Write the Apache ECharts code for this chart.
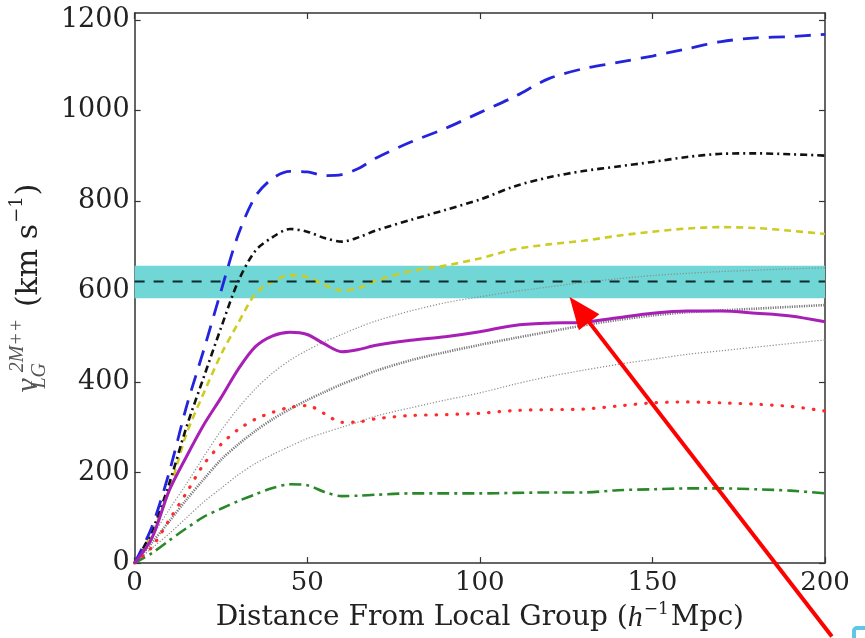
<!DOCTYPE html>
<html>
<head>
<meta charset="utf-8">
<script src="https://cdn.jsdelivr.net/npm/echarts@6/dist/echarts.min.js"></script>
<style>
html,body{margin:0;padding:0;background:#fff;}
#main{width:865px;height:638px;}
</style>
</head>
<body>
<div id="main"></div>
<script>
// ---- data (km/s vs distance in h^-1 Mpc) ----
const distance = [0,5,10,15,20,25,30,35,40,45,50,55,60,65,70,80,90,100,110,120,130,140,150,160,170,180,190,200];
const blueLongDash  = [0,80,200,345,470,600,725,810,850,865,864,856,858,872,895,930,960,995,1030,1070,1092,1106,1120,1136,1152,1160,1163,1168];
const blackDashDot  = [0,70,175,300,410,519,622,690,720,738,732,718,710,720,735,758,780,803,832,852,866,876,886,897,904,905,903,900];
const yellowDash    = [0,65,160,285,375,460,530,595,622,636,632,614,602,608,624,645,657,673,693,704,712,723,732,739,742,740,734,727];
const magentaSolid  = [0,55,160,235,305,365,428,478,502,510,505,484,467,472,481,492,500,511,525,530,532,542,552,557,557,552,546,533];
const redDotted     = [0,35,95,155,218,262,295,318,333,344,348,330,311,312,319,326,328,331,337,339,340,347,354,356,354,351,346,336];
const greenDashDot  = [0,22,50,77,102,120,137,152,166,174,172,157,148,149,151,154,154,154,155,156,156,161,163,165,165,163,160,154];
const grayUpper     = [0,58,118,175,235,292,342,385,420,448,470,489,505,521,535,557,575,588,600,610,620,628,635,640,644,647,650,652];
const grayMiddle    = [0,45,92,140,185,228,262,292,318,340,360,378,395,410,425,448,466,482,497,511,525,537,547,554,558,562,566,570];
const grayLower     = [0,33,65,100,135,165,195,220,240,258,275,288,300,312,325,343,360,376,395,412,426,439,450,461,469,477,485,493];
const observedLG = 622;            // horizontal dashed line
const observedBand = [585, 657];   // cyan band
const xTicks = [0,50,100,150,200];
const yTicks = [0,200,400,600,800,1000,1200];
const arrowTip = [126, 588];
const arrowTail = [202, -162];

const pairs = arr => distance.map((d,i)=>[d, arr[i]]);

const chart = echarts.init(document.getElementById('main'), null, {renderer:'canvas'});
const SERIF = 'DejaVu Serif';
const MATH = 'Liberation Serif';
const axisLineStyle = {color:'#333', width:1.5};
const tickStyle = {show:true, inside:true, length:6, lineStyle:{color:'#333', width:1.2}};

function lineSeries(name, arr, color, width, type, z, smooth){
  return {
    name, type:'line', data:pairs(arr), showSymbol:false, symbol:'none',
    smooth: smooth, z: z, clip:true,
    lineStyle:{color, width, type, cap:'butt'}
  };
}

const option = {
  animation:false,
  backgroundColor:'#fff',
  grid:{left:133, right:40, top:13, bottom:71, containLabel:false},
  xAxis:[
    {type:'value', min:0, max:200, interval:50, position:'bottom',
     axisLine:{show:true, onZero:false, lineStyle:axisLineStyle},
     axisTick:Object.assign({}, tickStyle, {customValues:xTicks}),
     axisLabel:{customValues:xTicks, margin:7, fontFamily:SERIF, fontSize:26, color:'#222',
       formatter:v=>String(v)},
     splitLine:{show:false},
     name:'{n|Distance From Local Group (}{i|h}{s|−1}{n|Mpc)}',
     nameLocation:'middle', nameGap:34,
     nameTextStyle:{fontFamily:SERIF, fontSize:28, color:'#222',
       rich:{
         n:{fontFamily:SERIF, fontSize:28, color:'#222', lineHeight:34},
         i:{fontFamily:MATH, fontStyle:'italic', fontSize:30, color:'#222', lineHeight:34},
         s:{fontFamily:SERIF, fontSize:17, color:'#222', lineHeight:17, verticalAlign:'top', padding:[0,2,0,1]}
       }}
    },
    {type:'value', min:0, max:200, interval:50, position:'top',
     axisLine:{show:true, onZero:false, lineStyle:axisLineStyle},
     axisTick:Object.assign({}, tickStyle, {customValues:xTicks}),
     axisLabel:{show:false}, splitLine:{show:false}}
  ],
  yAxis:[
    {type:'value', min:0, max:1215, interval:200, position:'left',
     axisLine:{show:true, onZero:false, lineStyle:axisLineStyle},
     axisTick:Object.assign({}, tickStyle, {customValues:yTicks}),
     axisLabel:{customValues:yTicks, margin:5, fontFamily:SERIF, fontSize:27, color:'#222',
       formatter:v=>String(v)},
     splitLine:{show:false},
     name:'{v|v}{sub|LG}{sup|2M++}{n| (km s}{s|−1}{n|)}',
     nameLocation:'middle', nameGap:84, nameRotate:90,
     nameTextStyle:{fontFamily:SERIF, fontSize:30, color:'#222',
       rich:{
         v:{fontFamily:MATH, fontStyle:'italic', fontSize:32, color:'#555', lineHeight:42, padding:[0,2,0,0]},
         sub:{fontFamily:MATH, fontStyle:'italic', fontSize:20, color:'#555', lineHeight:20, verticalAlign:'bottom', width:1},
         sup:{fontFamily:MATH, fontStyle:'italic', fontSize:20, color:'#555', lineHeight:20, verticalAlign:'top', padding:[0,2,0,3]},
         n:{fontFamily:SERIF, fontSize:30, color:'#222', lineHeight:42},
         s:{fontFamily:SERIF, fontSize:18, color:'#222', lineHeight:18, verticalAlign:'top', padding:[0,1,0,1]}
       }}
    },
    {type:'value', min:0, max:1215, interval:200, position:'right',
     axisLine:{show:true, onZero:false, lineStyle:axisLineStyle},
     axisTick:Object.assign({}, tickStyle, {customValues:yTicks}),
     axisLabel:{show:false}, splitLine:{show:false}}
  ],
  series:[
    {
      name:'observed', type:'line', data:[[0,observedLG],[200,observedLG]],
      showSymbol:false, symbol:'none', z:9,
      lineStyle:{color:'#0d2a2a', width:2, type:[10,9]},
      markArea:{silent:true, z:1, itemStyle:{color:'#70d6d6', opacity:1},
        data:[[{yAxis:observedBand[0]},{yAxis:observedBand[1]}]]}
    },
    lineSeries('grayUpper', grayUpper, '#8c8c8c', 1.2, [1.2,1.8], 3, 0.3),
    lineSeries('grayMiddle', grayMiddle, '#7a7a7a', 2.6, [1.2,1.2], 3, 0.3),
    lineSeries('grayLower', grayLower, '#8c8c8c', 1.2, [1.2,1.8], 3, 0.3),
    lineSeries('green', greenDashDot, '#2a882a', 2.6, [12,5,3,5], 5, 0.3),
    lineSeries('red', redDotted, '#ff2a2a', 3.2, [0.5,10], 5, 0.3),
    lineSeries('magenta', magentaSolid, '#a81fb5', 3, 'solid', 6, 0.3),
    lineSeries('yellow', yellowDash, '#cccc22', 2.6, [7,5], 5, 0.3),
    lineSeries('black', blackDashDot, '#111', 2.6, [7,4,2,4], 5, 0.3),
    lineSeries('blue', blueLongDash, '#2424dc', 2.8, [16,10], 5, 0.3)
  ]
};
option.series[5].lineStyle.cap = 'round';
chart.setOption(option);

// ---- annotation arrow ----
const tip = chart.convertToPixel({gridIndex:0}, arrowTip);
const tail = chart.convertToPixel({gridIndex:0}, arrowTail);
const dx = tip[0]-tail[0], dy = tip[1]-tail[1];
const len = Math.sqrt(dx*dx+dy*dy);
const ux = dx/len, uy = dy/len;
const headL = 32, headW = 13;
const bx = tip[0]-ux*headL, by = tip[1]-uy*headL;
chart.setOption({
  graphic:[
    {type:'line', z:100, shape:{x1:tail[0], y1:tail[1], x2:bx+ux*2, y2:by+uy*2},
     style:{stroke:'#ff0000', lineWidth:4}},
    {type:'polygon', z:100, shape:{points:[tip,[bx-uy*headW, by+ux*headW],[bx+uy*headW, by-ux*headW]]},
     style:{fill:'#ff0000'}},
    {type:'rect', z:100, shape:{x:854, y:628, width:40, height:40, r:3},
     style:{fill:'none', stroke:'#5cc8e6', lineWidth:4}}
  ]
});
</script>
</body>
</html>
